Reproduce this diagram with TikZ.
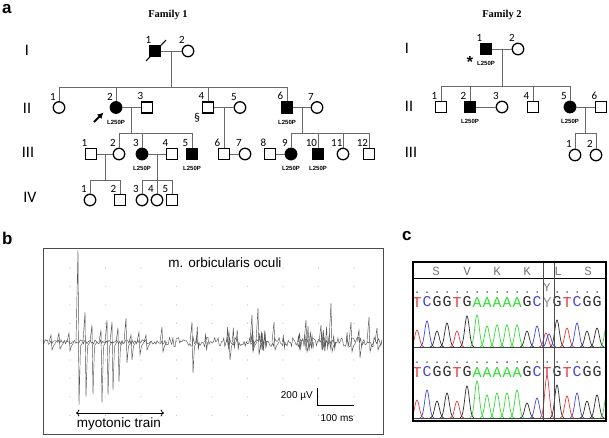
\documentclass[tikz,border=0pt]{standalone}
\usepackage{fontspec}
\setmainfont{Liberation Sans}
\newfontfamily\pedfont{Carlito}
\newfontfamily\famfont{Liberation Serif}
\newfontfamily\seqfont{Liberation Mono}
\usepackage{tikz}
\usetikzlibrary{arrows.meta, calc}
\definecolor{trace-gray}{RGB}{85,85,85}
\definecolor{line-gray}{RGB}{105,105,105}
\definecolor{seq-red}{RGB}{225,60,60}
\definecolor{seq-blue}{RGB}{70,70,215}
\definecolor{seq-green}{RGB}{50,220,50}
\definecolor{seq-black}{RGB}{45,45,45}
\definecolor{seq-gray}{RGB}{150,150,150}

\begin{document}
\begin{tikzpicture}[
    x=1pt, y=-1pt,
    male/.style={rectangle, draw=black, line width=1.3pt, minimum size=11pt, inner sep=0pt, fill=white},
    female/.style={circle, draw=black, line width=1.3pt, minimum size=11.5pt, inner sep=0pt, fill=white},
    affected/.style={fill=black},
    num/.style={font=\pedfont\fontsize{11}{11}\selectfont, inner sep=0pt, anchor=center, label distance=6pt},
    mut/.style={font=\bfseries\fontsize{6}{6}\selectfont, inner sep=0pt, label distance=6pt},
    gen/.style={font=\pedfont\fontsize{16}{16}\selectfont, inner sep=0pt},
    fam/.style={font=\famfont\bfseries\fontsize{10.5}{11}\selectfont, inner sep=0pt},
    panel/.style={font=\bfseries\fontsize{17}{17}\selectfont, inner sep=0pt, anchor=base west},
    rel/.style={draw=line-gray, line width=0.9pt},
    proband/.style={-{Latex[length=6pt, width=6.5pt]}, line width=1.8pt},
    trace/.style={draw=trace-gray, line width=0.45pt},
    emglabel/.style={font=\fontsize{13.5}{14}\selectfont, inner sep=0pt},
    barlabel/.style={font=\fontsize{10}{10}\selectfont, inner sep=0pt},
    base/.style={font=\seqfont\fontsize{15}{15}\selectfont, inner sep=0pt},
    aa/.style={font=\seqfont\fontsize{12.5}{13}\selectfont, inner sep=0pt, text=seq-gray!80!black},
    peak/.style={line width=0.7pt}
]

\useasboundingbox (0,0) rectangle (609,437);
\fill[white] (0,0) rectangle (609,437);

% Panel letters
\node[panel] (lbl-a) at (2,13) {a};
\node[panel] (lbl-b) at (2,244) {b};
\node[panel] (lbl-c) at (402,240) {c};

% Family 1
\node[fam] (f1-title) at (168,15) {Family 1};
\node[gen] (f1-gI) at (27,50) {I};
\node[gen] (f1-gII) at (27,108) {II};
\node[gen] (f1-gIII) at (28,152) {III};
\node[gen] (f1-gIV) at (30,197) {IV};

\node[male, affected, label={[num]120:1}] (f1-I1) at (155,51) {};
\node[female, label={[num]120:2}] (f1-I2) at (188,51) {};
\draw[line width=1pt] ($(f1-I1)+(-9,10)$) -- ($(f1-I1)+(11,-11)$);

\node[female, label={[num]120:1}] (f1-II1) at (59,107.5) {};
\node[female, affected, label={[num]120:2}, label={[mut]below:L250P}] (f1-II2) at (116,107.5) {};
\node[male, label={[num]120:3}] (f1-II3) at (147,107.5) {};
\node[male, label={[num]120:4}] (f1-II4) at (208,107.5) {};
\node[female, label={[num]120:5}] (f1-II5) at (240,107.5) {};
\node[male, affected, label={[num]120:6}, label={[mut]below:L250P}] (f1-II6) at (287,107.5) {};
\node[female, label={[num]120:7}] (f1-II7) at (317,107.5) {};
\node[font=\pedfont\fontsize{12}{12}\selectfont] (f1-sect) at (197,118) {§};
\coordinate (pb) at (94,122);
\draw[proband] (pb) -- ++(9.5,-9.5);

\node[male, label={[num]120:1}] (f1-III1) at (91,154) {};
\node[female, label={[num]120:2}] (f1-III2) at (119,154) {};
\node[female, affected, label={[num]120:3}, label={[mut]below:L250P}] (f1-III3) at (142,154) {};
\node[male, label={[num]120:4}] (f1-III4) at (172,154) {};
\node[male, affected, label={[num]120:5}, label={[mut]below:L250P}] (f1-III5) at (192,154) {};
\node[male, label={[num]120:6}] (f1-III6) at (224,154) {};
\node[female, label={[num]120:7}] (f1-III7) at (245,154) {};
\node[male, label={[num]120:8}] (f1-III8) at (270,154) {};
\node[female, affected, label={[num]120:9}, label={[mut]below:L250P}] (f1-III9) at (291,154) {};
\node[male, affected, label={[num]120:10}, label={[mut]below:L250P}] (f1-III10) at (318,154) {};
\node[female, label={[num]120:11}] (f1-III11) at (343,154) {};
\node[male, label={[num]120:12}] (f1-III12) at (369,154) {};

\node[female, label={[num]120:1}] (f1-IV1) at (90,200) {};
\node[male, label={[num]120:2}] (f1-IV2) at (120,200) {};
\node[female, label={[num]120:3}] (f1-IV3) at (142,200) {};
\node[female, label={[num]120:4}] (f1-IV4) at (157,200) {};
\node[male, label={[num]120:5}] (f1-IV5) at (172,200) {};

% Family 1 lines
\foreach \a/\b in {f1-I1/f1-I2, f1-II2/f1-II3, f1-II4/f1-II5, f1-II6/f1-II7,
                   f1-III1/f1-III2, f1-III3/f1-III4, f1-III6/f1-III7, f1-III8/f1-III9}
  \draw[rel] (\a) -- (\b);
\coordinate (f1-m1) at ($(f1-I1)!0.5!(f1-I2)$);
\draw[rel] (f1-m1) -- ++(0,36) coordinate (f1-s1);
\foreach \c in {f1-II1, f1-II2, f1-II4, f1-II6} \draw[rel] (f1-s1) -| (\c.north);
\coordinate (f1-m2) at ($(f1-II2)!0.5!(f1-II3)$);
\draw[rel] (f1-m2) -- ++(0,25.5) coordinate (f1-s2);
\foreach \c in {f1-III2, f1-III3, f1-III5} \draw[rel] (f1-s2) -| (\c.north);
\coordinate (f1-m3) at ($(f1-II4)!0.5!(f1-II5)$);
\draw[rel] (f1-m3) -- (f1-III6.north);
\coordinate (f1-m4) at ($(f1-II6)!0.5!(f1-II7)$);
\draw[rel] (f1-m4) -- ++(0,25.5) coordinate (f1-s4);
\foreach \c in {f1-III9, f1-III10, f1-III11, f1-III12} \draw[rel] (f1-s4) -| (\c.north);
\coordinate (f1-m5) at ($(f1-III1)!0.5!(f1-III2)$);
\draw[rel] (f1-m5) -- ++(0,26) coordinate (f1-s5);
\foreach \c in {f1-IV1, f1-IV2} \draw[rel] (f1-s5) -| (\c.north);
\coordinate (f1-m6) at ($(f1-III3)!0.5!(f1-III4)$);
\draw[rel] (f1-m6) -- ++(0,26) coordinate (f1-s6);
\foreach \c in {f1-IV3, f1-IV4, f1-IV5} \draw[rel] (f1-s6) -| (\c.north);

% Family 2
\node[fam] (f2-title) at (502,15) {Family 2};
\node[gen] (f2-gI) at (407,48) {I};
\node[gen] (f2-gII) at (409,106) {II};
\node[gen] (f2-gIII) at (411,152) {III};

\node[male, affected, label={[num]120:1}, label={[mut]below:L250P}] (f2-I1) at (486,49) {};
\node[female, label={[num]120:2}] (f2-I2) at (518,49) {};
\node[font=\bfseries\fontsize{16}{16}\selectfont, inner sep=0pt] (f2-star) at (470,62) {*};

\node[male, label={[num]120:1}] (f2-II1) at (441,107) {};
\node[male, affected, label={[num]120:2}, label={[mut]below:L250P}] (f2-II2) at (470,107) {};
\node[female, label={[num]120:3}] (f2-II3) at (502,107) {};
\node[male, label={[num]120:4}] (f2-II4) at (533,107) {};
\node[female, affected, label={[num]120:5}, label={[mut]below:L250P}] (f2-II5) at (570,107) {};
\node[male, label={[num]120:6}] (f2-II6) at (601,107) {};

\node[female, label={[num]120:1}] (f2-III1) at (575,155) {};
\node[female, label={[num]120:2}] (f2-III2) at (596,155) {};

% Family 2 lines
\foreach \a/\b in {f2-I1/f2-I2, f2-II2/f2-II3, f2-II5/f2-II6}
  \draw[rel] (\a) -- (\b);
\coordinate (f2-m1) at ($(f2-I1)!0.5!(f2-I2)$);
\draw[rel] (f2-m1) -- ++(0,37) coordinate (f2-s1);
\foreach \c in {f2-II1, f2-II2, f2-II4, f2-II5} \draw[rel] (f2-s1) -| (\c.north);
\coordinate (f2-m2) at ($(f2-II5)!0.5!(f2-II6)$);
\draw[rel] (f2-m2) -- ++(0,26) coordinate (f2-s2);
\foreach \c in {f2-III1, f2-III2} \draw[rel] (f2-s2) -| (\c.north);

% EMG recording
\foreach \gx in {0,...,8}
  \foreach \gy in {0,...,8}
    \fill[black!28] ({70+35.5*\gx},{268+18.4*\gy}) circle (0.55);
\begin{scope}
  \clip (43,248) rectangle (383,434);
  \pgfmathsetseed{4217}
  \draw[trace] plot[domain=44:382, samples=300] (\x, {342 + (2.4 + 2.4*(\x>165))*rand});
  \foreach \sx/\st/\sb in {79/250/405, 86/312/397, 93/325/394, 102/330/403, 108/320/395,
      113/322/390, 119/328/382, 127/318/363, 132/335/360, 140/332/355, 147/335/350,
      52/335/350, 60/333/349, 70/333/351, 163/327/352, 193/322/373, 230/332/360,
      253/315/352, 259/308/355, 275/322/350, 307/320/352, 322/325/350, 332/303/352,
      352/322/352, 360/330/358, 370/317/352, 378/328/350}
    \draw[trace] (\sx-3,342) -- (\sx-1,\st) -- (\sx,\sb) -- (\sx+1.5,346) -- (\sx+4,342);
  \foreach \k in {1,...,26} {
    \pgfmathsetmacro\sx{166+214*rnd}
    \pgfmathsetmacro\st{336-10*rnd}
    \pgfmathsetmacro\sb{346+6*rnd}
    \draw[trace] (\sx-1,342) -- (\sx,\st) -- (\sx+1,\sb) -- (\sx+2,342);
  }
\end{scope}
\draw[black!70, line width=0.9pt] (43,248) rectangle (383,434);
\node[emglabel] (emg-title) at (225,263) {m. orbicularis oculi};
\coordinate (bar-top) at (317,388);
\coordinate (bar-corner) at (317,405);
\coordinate (bar-right) at (354,405);
\draw[black, line width=1pt] (bar-top) -- (bar-corner) -- (bar-right);
\node[barlabel, anchor=east] (bar-uv) at (313,396) {200 µV};
\node[barlabel] (bar-ms) at (337,418) {100 ms};
\coordinate (train-l) at (76,413);
\coordinate (train-r) at (164,413);
\draw[<->, line width=0.8pt] (train-l) -- (train-r);
\node[emglabel] (train) at (119,424) {myotonic train};

% Sequence chromatogram
\begin{scope}
  \clip (413,262) rectangle (606,421);
  \foreach \tb/\tc/\bb/\bc/\ht/\hb [count=\i from 0] in {
      T/seq-red/T/seq-red/17/18, C/seq-blue/C/seq-blue/26/28,
      G/seq-black/G/seq-black/16/17, G/seq-black/G/seq-black/24/25,
      T/seq-red/T/seq-red/16/17, G/seq-black/G/seq-black/31/32,
      A/seq-green/A/seq-green/32/37, A/seq-green/A/seq-green/21/23,
      A/seq-green/A/seq-green/22/25, A/seq-green/A/seq-green/22/25,
      A/seq-green/A/seq-green/22/28, G/seq-black/G/seq-black/16/15,
      C/seq-blue/C/seq-blue/21/20, Y/seq-gray/T/seq-red/0/42,
      G/seq-black/G/seq-black/27/33, T/seq-red/T/seq-red/19/22,
      C/seq-blue/C/seq-blue/24/25, G/seq-black/G/seq-black/16/17,
      G/seq-black/G/seq-black/19/23} {
    \pgfmathsetmacro\bx{417+10*\i}
    \pgfmathsetmacro\bl{\bx-7}
    \pgfmathsetmacro\br{\bx+7}
    \node[base, text=\tc] (seq-t\i) at (\bx,307) {\tb};
    \node[base, text=\bc] (seq-b\i) at (\bx,377) {\bb};
    \ifnum\i=13 \else \fill[black] (\bx,292) circle (0.75); \fi
    \fill[black] (\bx,362) circle (0.75);
    \draw[peak, \tc] plot[domain=\bl:\br, samples=25] (\x, {347-\ht*exp(-((\x-\bx)/3.2)^2)});
    \draw[peak, \bc] plot[domain=\bl:\br, samples=25] (\x, {418-\hb*exp(-((\x-\bx)/3.2)^2)});
  }
  \draw[peak, seq-green] plot[domain=600:606, samples=15] (\x, {347-24*exp(-((\x-607)/3.2)^2)});
  \draw[peak, seq-green] plot[domain=600:606, samples=15] (\x, {418-26*exp(-((\x-607)/3.2)^2)});
  \draw[peak, seq-red] plot[domain=539:553, samples=25] (\x, {347-14*exp(-((\x-546)/3.2)^2)});
  \draw[peak, seq-blue] plot[domain=542:556, samples=25] (\x, {347-13*exp(-((\x-549)/3.2)^2)});
\end{scope}
\node[font=\seqfont\fontsize{12}{12}\selectfont, inner sep=0pt, text=seq-gray!80!black] (seq-y) at (547,288) {Y};
\foreach \a/\ax [count=\j] in {S/436, V/467, K/497, K/527, L/558, S/588}
  \node[aa] (aa-\j) at (\ax,271) {\a};
\draw[black!75, line width=0.9pt] (413,347) -- (606,347);
\draw[black!75, line width=0.7pt] (413,418) -- (606,418);
\draw[black, line width=0.8pt] (413,278) -- (606,278);
\draw[black!70, line width=1pt] (543,262) -- (543,421);
\draw[black!70, line width=1pt] (554,262) -- (554,421);
\draw[black, line width=1.2pt] (413,262) rectangle (606,421);

\end{tikzpicture}
\end{document}
